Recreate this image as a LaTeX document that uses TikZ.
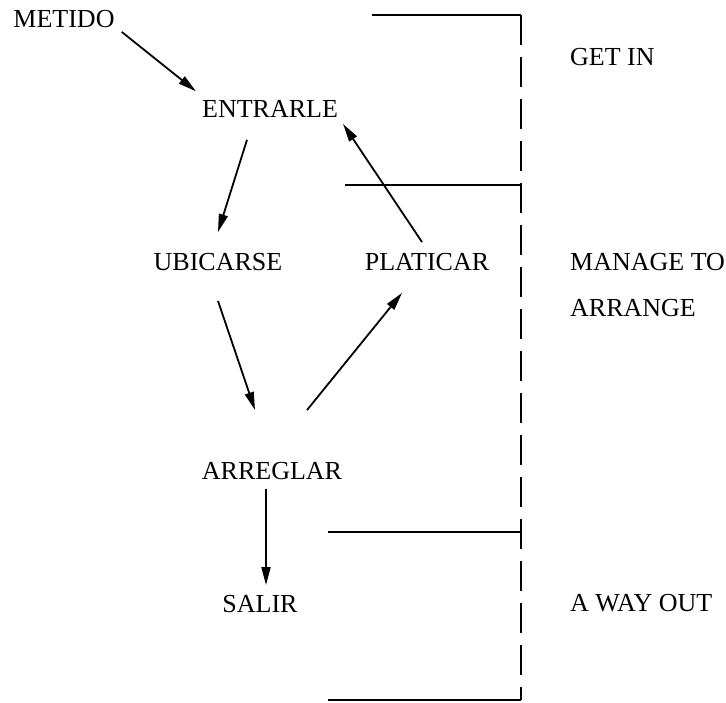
\documentclass[tikz,border=0pt]{standalone}
\usepackage{fontspec}
\setmainfont{Liberation Serif}
\usetikzlibrary{arrows.meta}
\begin{document}
\begin{tikzpicture}[x=1pt,y=-1pt,
  lbl/.style={inner sep=0pt,font=\fontsize{26}{30}\selectfont},
  side/.style={lbl,anchor=west},
  arr/.style={line width=1.8pt,-{Triangle[length=18pt,width=9pt]}},
  bar/.style={line width=2.2pt},
  dashbar/.style={line width=2.2pt,dash pattern=on 30pt off 12pt}]
\useasboundingbox (0,0) rectangle (726,702);
% nodes
\node[lbl] (metido) at (64,19) {METIDO};
\node[lbl] (entrarle) at (270,109) {ENTRARLE};
\node[lbl] (ubicarse) at (218,262) {UBICARSE};
\node[lbl] (platicar) at (427,262) {PLATICAR};
\node[lbl] (arreglar) at (272,471) {ARREGLAR};
\node[lbl] (salir) at (260,604) {SALIR};
% side labels
\node[side] (getin) at (570,57) {GET IN};
\node[side] (manage) at (570,262) {MANAGE TO};
\node[side] (arrange) at (570,308) {ARRANGE};
\node[side] (wayout) at (570,603) {A WAY OUT};
% arrows
\draw[arr] ([shift={(7,4)}]metido.south east) -- ([shift={(-6,-9)}]entrarle.north west);
\draw[arr] ([shift={(-23,22)}]entrarle.south) -- ([shift={(0,-21)}]ubicarse.north);
\draw[arr] ([shift={(-5,-11)}]platicar.north) -- ([shift={(5,15)}]entrarle.east);
\draw[arr] ([shift={(0,30)}]ubicarse.south) -- ([shift={(-17,-52)}]arreglar.north);
\draw[arr] ([shift={(35,-52)}]arreglar.north) -- ([shift={(-25,22)}]platicar.south);
\draw[arr] ([shift={(-6,9)}]arreglar.south) -- ([shift={(6,-10)}]salir.north);
% bracket
\coordinate (t0) at (372,15);
\coordinate (t1) at (521,15);
\coordinate (m0) at (345,185);
\coordinate (m1) at (521,185);
\coordinate (l0) at (328,532);
\coordinate (l1) at (521,532);
\coordinate (b0) at (328,700);
\coordinate (b1) at (521,700);
\draw[bar] (t0) -- (t1);
\draw[bar] (m0) -- (m1);
\draw[bar] (l0) -- (l1);
\draw[bar] (b0) -- (b1);
\draw[dashbar] (t1) -- (b1);
\end{tikzpicture}
\end{document}
